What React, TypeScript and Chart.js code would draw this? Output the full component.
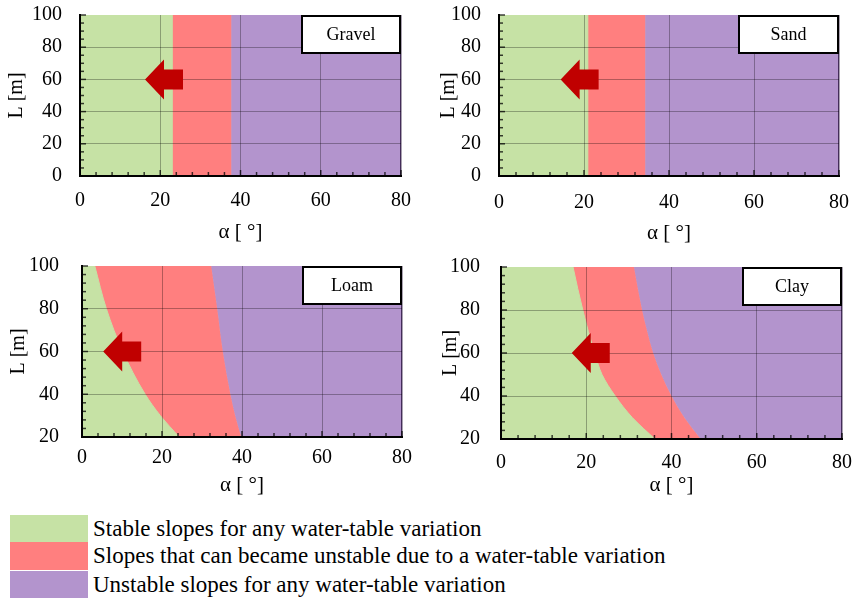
import React, { useEffect, useRef } from 'react';
import { Chart, registerables } from 'chart.js';

Chart.register(...registerables);

// ---------- data ----------
const soilNames = ['Gravel', 'Sand', 'Loam', 'Clay'];

const gravelL = [0, 100];
const gravelStableEdge = [23, 23];
const gravelUnstableEdge = [37.7, 37.7];

const sandL = [0, 100];
const sandStableEdge = [20.9, 20.9];
const sandUnstableEdge = [34.4, 34.4];

const loamL = [20, 30, 40, 60, 80, 100];
const loamStableEdge = [24.3, 19.6, 15.8, 10.2, 6.1, 3.2];
const loamUnstableEdge = [39.8, 38.3, 37.1, 35.2, 33.8, 32.3];

const clayL = [20, 30, 40, 50, 60, 70, 80, 90, 100];
const clayStableEdge = [36.1, 30.8, 26.8, 23.7, 22.0, 20.5, 19.2, 18.0, 16.9];
const clayUnstableEdge = [46.8, 43.0, 40.0, 37.6, 35.7, 34.3, 33.1, 32.1, 31.2];

const alphaTicks = [0, 20, 40, 60, 80];
const lTicksTop = [0, 20, 40, 60, 80, 100];
const lTicksBottom = [20, 40, 60, 80, 100];

const arrowTipAlpha = [16.2, 14.5, 5.3, 16.6];
const arrowTipL = [60, 60, 60, 60];

const legendLabels = [
  'Stable slopes for any water-table variation',
  'Slopes that can became unstable due to a water-table variation',
  'Unstable slopes for any water-table variation',
];

// ---------- styles ----------
const GREEN = '#C6E2A5';
const RED = '#FF7F7F';
const PURPLE = '#B394CD';
const ARROW = '#C00000';
const FONT = '"Liberation Serif", "Times New Roman", serif';

const panels = [
  { L: gravelL, stable: gravelStableEdge, unstable: gravelUnstableEdge, yTicks: lTicksTop,
    left: 0, top: 0, w: 420, h: 250, padTop: 15, padRight: 19, yW: 80, xH: 74,
    xPad: 13, yPad: 18, xTitlePad: 5, yTitlePad: 5, boxW: 100, minorY: 5 },
  { L: sandL, stable: sandStableEdge, unstable: sandUnstableEdge, yTicks: lTicksTop,
    left: 420, top: 0, w: 433, h: 250, padTop: 15, padRight: 14, yW: 79, xH: 74,
    xPad: 15, yPad: 18, xTitlePad: 4, yTitlePad: 17, boxW: 101, minorY: 5 },
  { L: loamL, stable: loamStableEdge, unstable: loamUnstableEdge, yTicks: lTicksBottom,
    left: 0, top: 250, w: 420, h: 250, padTop: 16, padRight: 18, yW: 82, xH: 63,
    xPad: 9, yPad: 23, xTitlePad: 2, yTitlePad: 7, boxW: 100, minorY: 4 },
  { L: clayL, stable: clayStableEdge, unstable: clayUnstableEdge, yTicks: lTicksBottom,
    left: 420, top: 250, w: 433, h: 250, padTop: 17, padRight: 11, yW: 81, xH: 61,
    xPad: 12, yPad: 21, xTitlePad: 2, yTitlePad: 19, boxW: 100, minorY: 4 },
];

const zeroPad = (s: any) => {
  s.paddingTop = 0;
  s.paddingBottom = 0;
  s.paddingLeft = 0;
  s.paddingRight = 0;
};

const decorPlugin = {
  id: 'decor',
  afterDraw(chart: any, _args: any, opts: any) {
    const { ctx, chartArea: a, scales } = chart;
    const xs = scales.x, ys = scales.y;
    ctx.save();
    // inward minor/major ticks
    ctx.strokeStyle = 'rgba(0,0,0,0.75)';
    ctx.lineWidth = 1.5;
    for (let v = xs.min; v <= xs.max; v += 4) {
      const px = xs.getPixelForValue(v);
      const len = v % 20 === 0 ? 6 : 4;
      ctx.beginPath();
      ctx.moveTo(px, a.bottom);
      ctx.lineTo(px, a.bottom - len);
      ctx.stroke();
    }
    for (let v = ys.min; v <= ys.max; v += opts.minorY) {
      const py = ys.getPixelForValue(v);
      const len = v % 20 === 0 ? 6 : 4;
      ctx.beginPath();
      ctx.moveTo(a.left, py);
      ctx.lineTo(a.left + len, py);
      ctx.stroke();
    }
    // arrow
    const tx = xs.getPixelForValue(opts.tipAlpha);
    const ty = ys.getPixelForValue(opts.tipL);
    ctx.fillStyle = ARROW;
    ctx.beginPath();
    ctx.moveTo(tx, ty);
    ctx.lineTo(tx + 19, ty - 20);
    ctx.lineTo(tx + 19, ty - 10);
    ctx.lineTo(tx + 38, ty - 10);
    ctx.lineTo(tx + 38, ty + 10);
    ctx.lineTo(tx + 19, ty + 10);
    ctx.lineTo(tx + 19, ty + 20);
    ctx.closePath();
    ctx.fill();
    // label box
    const bw = opts.boxW, bh = 39;
    const bx = a.right - bw, by = a.top;
    ctx.fillStyle = '#fff';
    ctx.fillRect(bx, by, bw, bh);
    ctx.strokeStyle = '#000';
    ctx.lineWidth = 2;
    ctx.strokeRect(bx + 1, by + 1, bw - 2, bh - 2);
    ctx.fillStyle = '#000';
    ctx.font = `18px ${FONT}`;
    ctx.textAlign = 'center';
    ctx.textBaseline = 'middle';
    ctx.fillText(opts.name, bx + bw / 2, by + bh / 2 + 1);
    ctx.restore();
  },
};

function Panel({ idx }: { idx: number }) {
  const ref = useRef<HTMLCanvasElement>(null);
  const p = panels[idx];
  useEffect(() => {
    const pts = (xs: number[], ls: number[]) => xs.map((x, i) => ({ x, y: ls[i] }));
    const xMin = alphaTicks[0], xMax = alphaTicks[alphaTicks.length - 1];
    const yMin = p.yTicks[0], yMax = p.yTicks[p.yTicks.length - 1];
    const common = { pointRadius: 0, cubicInterpolationMode: 'monotone' as const };
    const chart = new Chart(ref.current as HTMLCanvasElement, {
      type: 'line',
      data: {
        datasets: [
          { ...common, label: 'stable', data: pts(p.stable, p.L), fill: { value: xMin }, backgroundColor: GREEN, borderColor: GREEN, borderWidth: 1 },
          { ...common, label: 'transition', data: pts(p.unstable, p.L), fill: { value: xMin }, backgroundColor: RED, borderWidth: 0 },
          { ...common, label: 'unstable', data: pts(p.unstable, p.L), fill: { value: xMax }, backgroundColor: PURPLE, borderColor: PURPLE, borderWidth: 1 },
        ],
      },
      options: {
        indexAxis: 'y',
        animation: false,
        responsive: false,
        events: [],
        layout: { padding: { left: 0, top: p.padTop, right: p.padRight, bottom: 0 } },
        plugins: {
          legend: { display: false },
          tooltip: { enabled: false },
          decor: { tipAlpha: arrowTipAlpha[idx], tipL: arrowTipL[idx], name: soilNames[idx], boxW: p.boxW, minorY: p.minorY },
        } as any,
        scales: {
          x: {
            type: 'linear',
            position: 'bottom',
            min: xMin,
            max: xMax,
            afterBuildTicks: (s: any) => { s.ticks = alphaTicks.map((v) => ({ value: v })); },
            afterFit: (s: any) => { s.height = p.xH; zeroPad(s); },
            ticks: { padding: p.xPad, color: '#000', font: { family: FONT, size: 20 } },
            grid: {
              z: 1,
              drawTicks: false,
              color: (c: any) => (c.tick && c.tick.value === xMin ? 'transparent' : c.tick && c.tick.value === xMax ? 'rgba(30,10,50,0.75)' : 'rgba(0,0,0,0.3)'),
              lineWidth: (c: any) => (c.tick && c.tick.value === xMax ? 1.5 : 1),
            },
            border: { color: '#000', width: 2, z: 2 },
            title: { display: true, text: 'α [ °]', color: '#000', font: { family: FONT, size: 21 }, padding: { top: 0, bottom: p.xTitlePad } },
          },
          y: {
            type: 'linear',
            position: 'left',
            min: yMin,
            max: yMax,
            afterBuildTicks: (s: any) => { s.ticks = p.yTicks.map((v) => ({ value: v })); },
            afterFit: (s: any) => { s.width = p.yW; zeroPad(s); },
            ticks: { padding: p.yPad, color: '#000', font: { family: FONT, size: 20 } },
            grid: {
              z: 1,
              drawTicks: false,
              color: (c: any) => (c.tick && (c.tick.value === yMin || c.tick.value === yMax) ? 'transparent' : 'rgba(0,0,0,0.3)'),
            },
            border: { color: '#000', width: 2, z: 2 },
            title: { display: true, text: 'L [m]', color: '#000', font: { family: FONT, size: 20 }, padding: { top: p.yTitlePad, bottom: 0 } },
          },
        } as any,
      },
      plugins: [decorPlugin],
    });
    return () => chart.destroy();
  }, []);
  return (
    <canvas
      ref={ref}
      width={p.w}
      height={p.h}
      style={{ position: 'absolute', left: p.left, top: p.top, width: p.w, height: p.h }}
    />
  );
}

const legendRows = [
  { color: GREEN, top: 515, h: 27 },
  { color: RED, top: 542, h: 28 },
  { color: PURPLE, top: 571, h: 27 },
];

export default function App() {
  return (
    <div style={{ position: 'absolute', left: 0, top: 0, width: 853, height: 598, background: '#fff', overflow: 'hidden' }}>
      {panels.map((_, i) => (
        <Panel key={i} idx={i} />
      ))}
      {legendRows.map((r, i) => (
        <React.Fragment key={i}>
          <div style={{ position: 'absolute', left: 10, top: r.top, width: 78, height: r.h, background: r.color }} />
          <div
            style={{
              position: 'absolute', left: 93, top: r.top, height: r.h, lineHeight: `${r.h}px`,
              fontFamily: FONT, fontSize: 23, color: '#000', whiteSpace: 'nowrap',
            }}
          >
            {legendLabels[i]}
          </div>
        </React.Fragment>
      ))}
    </div>
  );
}
